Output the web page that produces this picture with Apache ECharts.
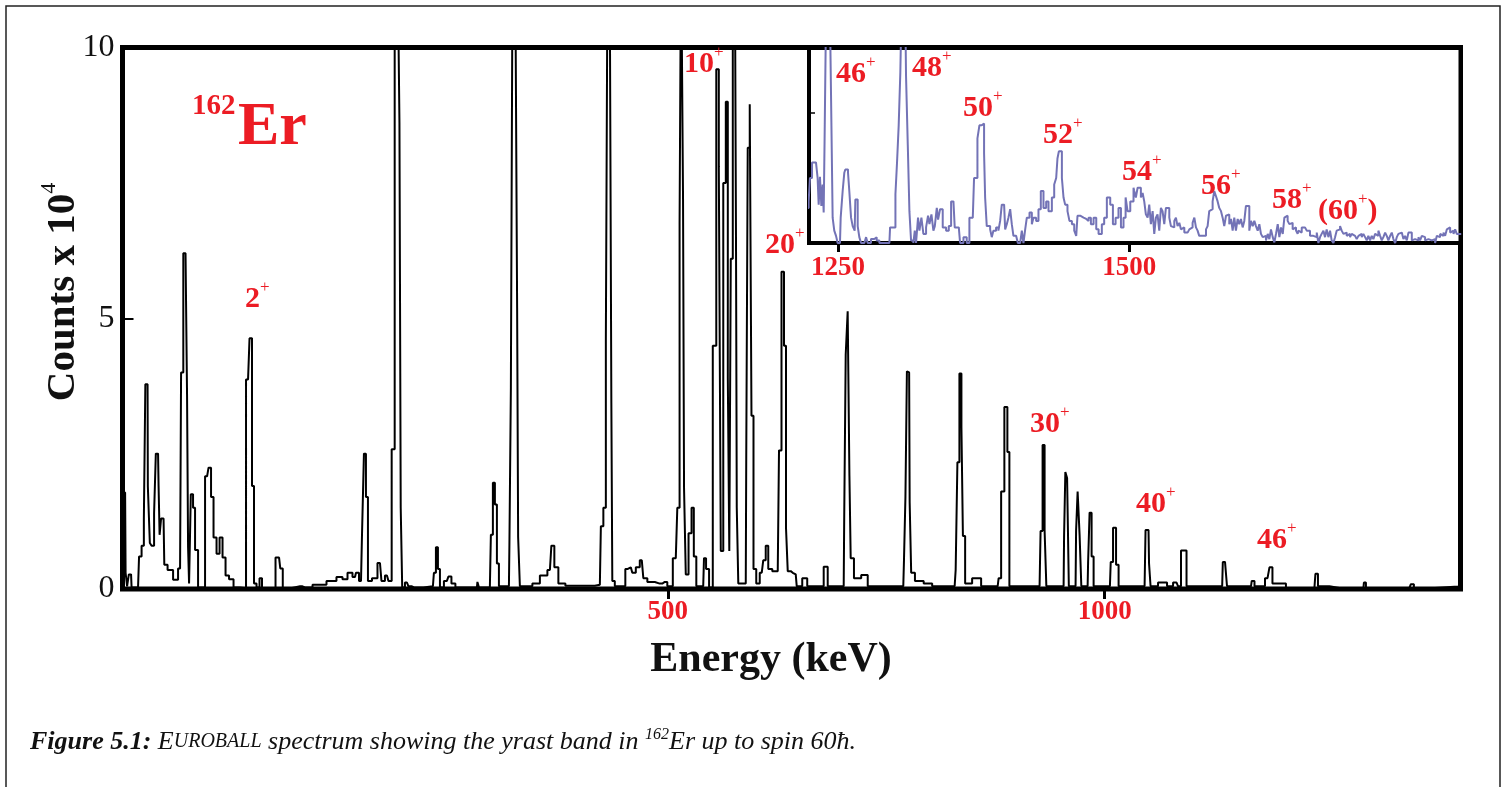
<!DOCTYPE html>
<html>
<head>
<meta charset="utf-8">
<title>162Er EUROBALL spectrum</title>
<script src="https://cdn.jsdelivr.net/npm/echarts@6.0.0/dist/echarts.min.js"></script>
<style>
  html, body { margin: 0; padding: 0; background: #fff; }
  #main { width: 1506px; height: 787px; }
</style>
</head>
<body>
<div id="main"></div>
<script>
// main spectrum, energy (keV) and counts (x 10^4)
const mainEnergy = [
  -124.7, -122.9, -121.2, -120.1, -117.8, -116.1, -114.4, -113.2, -106.4, -104.1,
  -100.6, -98.9, -97.2, -95.5, -94.9, -93.2, -92.6, -89.2, -86.9, -85.2,
  -83.5, -82.3, -81.2, -78.9, -77.2, -75.5, -69.7, -62.9, -58.3, -56.0,
  -53.2, -50.9, -49.7, -48.6, -47.4, -44.6, -42.3, -40.0, -35.4, -32.0,
  -27.4, -24.0, -21.7, -18.3, -14.8, -11.4, -8.0, -4.5, 0.0, 5.8,
  14.9, 19.5, 22.9, 25.2, 27.5, 30.9, 34.4, 36.6, 46.9, 55.0,
  57.8, 60.7, 79.0, 84.7, 101.9, 116.7, 124.7, 130.5, 136.2, 141.9,
  144.2, 148.8, 151.0, 153.3, 155.6, 157.9, 164.8, 170.5, 173.9, 178.5,
  181.9, 185.9, 188.8, 192.2, 193.4, 195.1, 196.8, 201.4, 204.8, 209.4,
  231.1, 233.4, 235.7, 238.0, 240.3, 247.1, 250.6, 254.0, 259.7, 281.5, 282.6,
  284.9, 296.3, 298.6, 300.9, 303.2, 305.5, 307.8, 318.1, 319.2, 321.5,
  323.2, 327.2, 327.8, 329.5, 331.8, 342.1, 347.8, 359.3, 365.0, 368.4,
  371.8, 377.6, 387.9, 410.7, 422.2, 424.5, 427.9, 430.2, 431.9, 434.8,
  435.9, 437.0, 441.6, 448.5, 454.2, 457.6, 461.1, 465.6, 470.2, 473.7,
  479.4, 490.8, 496.5, 502.3, 509.1, 512.6, 514.3, 516.0, 517.1, 517.7,
  519.4, 521.7, 525.7, 528.6, 530.9, 534.3, 540.5, 542.3, 545.2, 549.2, 553.7,
  557.2, 559.5, 561.7, 565.2, 567.5, 569.8, 570.9, 573.2, 575.5, 577.8,
  578.3, 579.5, 581.8, 589.2, 590.3, 592.6, 594.9, 596.6, 599.5, 602.9,
  607.5, 610.9, 613.2, 616.7, 622.4, 625.8, 628.7, 631.5, 634.4, 636.1,
  638.4, 643.0, 646.4, 648.7, 651.0, 656.7, 662.4, 676.1, 680.7, 685.3,
  701.3, 702.5, 704.7, 707.0, 708.7, 709.9, 716.2, 726.5, 731.1, 753.9,
  769.5, 771.1, 772.8, 774.5, 776.2, 777.4, 779.7, 786.0, 799.7, 805.4, 828.3,
  830.6, 832.3, 835.2, 836.9, 838.6, 842.0, 854.6, 862.6, 877.5, 879.8, 883.2,
  887.2, 890.1, 891.8, 925.5, 927.8, 930.1, 932.4, 934.1, 953.0, 954.1,
  955.9, 958.1, 959.9, 966.7, 967.9, 970.2, 972.4, 974.2, 980.5, 981.6, 983.9,
  986.2, 988.5, 1006.0, 1007.9, 1011.3, 1014.8, 1017.1, 1045.7, 1047.9, 1050.2, 1051.4,
  1053.7, 1068.5, 1074.3, 1082.3, 1085.7, 1089.1, 1092.6, 1094.8, 1120.0, 1134.5, 1136.0,
  1139.5, 1140.6, 1167.5, 1169.2, 1173.8, 1180.6, 1186.4, 1190.9, 1193.2, 1203.5, 1211.5,
  1240.1, 1242.4, 1245.9, 1268.7, 1296.2, 1297.3, 1300.8, 1348.8, 1352.2, 1355.7,
  1400.3, 1407.2
];
const mainCounts = [
  0.1, 1.78, 1.78, 0.3, 0.05, 0.27, 0.27, 0.03, 0.03, 0.6,
  0.8, 1.3, 3.78, 3.78, 1.9, 1.9, 0.85, 0.8, 1.4, 2.5,
  2.5, 1.9, 1.0, 1.3, 1.3, 0.45, 0.35, 0.17, 0.38, 4.0,
  6.2, 6.2, 3.55, 0.78, 0.1, 1.75, 1.5, 0.72, 0.03, 0.03,
  2.08, 2.24, 1.7, 0.95, 0.65, 0.95, 0.58, 0.25, 0.18, 0.03,
  0.02, 3.87, 4.63, 1.9, 0.1, 0.03, 0.2, 0.02, 0.02, 0.58,
  0.38, 0.02, 0.05, 0.03, 0.08, 0.15, 0.22, 0.18, 0.3, 0.22,
  0.3, 0.15, 0.98, 2.5, 1.7, 0.15, 0.2, 0.48, 0.15, 0.25,
  0.15, 2.58, 12, 12, 8.6, 1.5, 0.03, 0.12, 0.05, 0.03,
  0.05, 0.3, 0.77, 0.37, 0.03, 0.15, 0.23, 0.1, 0.03, 0.03, 0.13,
  0.03, 0.03, 1.0, 1.96, 1.56, 0.47, 0.05, 0.05, 0.8, 3.73,
  12, 12, 5.19, 0.96, 0.05, 0.05, 0.1, 0.25, 0.35, 0.8,
  0.4, 0.1, 0.06, 0.06, 0.08, 1.16, 1.5, 4.62, 12, 12,
  3.43, 0.15, 0.05, 0.05, 0.37, 0.4, 0.3, 0.4, 0.53, 0.2,
  0.13, 0.1, 0.13, 0.05, 0.57, 1.5, 6.75, 12, 12, 7.2,
  1.86, 0.27, 1.03, 1.5, 0.6, 0.05, 0.05, 0.57, 0.37, 0.03, 4.49,
  9.6, 7.8, 0.7, 7.5, 9.0, 3.9, 0.7, 6.1, 12, 12,
  6.3, 1.5, 0.1, 0.1, 2.43, 8.15, 8.95, 3.2, 0.37, 0.1,
  0.3, 0.53, 0.8, 0.37, 0.33, 0.33, 2.56, 5.86, 4.49, 1.13,
  0.33, 0.3, 0.27, 0.05, 0.05, 0.2, 0.05, 0.05, 0.41, 0.05,
  0.05, 1.35, 4.33, 5.13, 2.09, 0.57, 0.2, 0.26, 0.05, 0.05,
  0.05, 0.53, 1.69, 4.02, 4.0, 1.6, 0.3, 0.15, 0.1, 0.05, 0.05,
  0.35, 2.34, 3.98, 2.99, 0.98, 0.1, 0.2, 0.05, 0.05, 0.2, 1.8,
  3.36, 2.53, 0.05, 0.05, 1.07, 2.66, 1.08, 0.05, 0.05, 0.98,
  2.16, 2.05, 0.05, 0.05, 1.08, 1.8, 1.0, 0.05, 0.05, 0.5, 1.41,
  0.6, 0.05, 0.05, 0.5, 1.13, 0.45, 0.05, 0.05, 1.09, 1.09, 0.47,
  0.05, 0.12, 0.05, 0.12, 0.05, 0.71, 0.71, 0.05, 0.05, 0.05, 0.5,
  0.5, 0.05, 0.05, 0.15, 0.05, 0.05, 0.2, 0.4, 0.1, 0.1, 0.02,
  0.02, 0.28, 0.05, 0.02, 0.02, 0.12, 0.02, 0.02, 0.09, 0.02,
  0.04, 0.05
];

// inset: high-energy part of the spectrum (arbitrary units)
const insetEnergy = [
  1222.5, 1224.8, 1225.9, 1227.7, 1231.1, 1232.5, 1233.4, 1234.5, 1235.7, 1236.8,
  1237.7, 1238.5, 1239.7, 1243.1, 1244.0, 1245.4, 1246.8, 1248.3, 1249.7, 1251.7,
  1252.3, 1254.0, 1255.4, 1256.3, 1258.6, 1259.7, 1261.2, 1262.6, 1264.3, 1264.9,
  1266.9, 1268.3, 1269.8, 1272.6, 1274.1, 1275.5, 1278.3, 1281.2, 1283.2, 1285.5,
  1294.1, 1294.7, 1297.5, 1299.3, 1300.7, 1302.1, 1303.5, 1304.4, 1307.8, 1308.4,
  1309.9, 1311.3, 1312.7, 1314.7, 1315.9, 1317.0, 1318.7, 1319.9, 1321.6, 1323.3,
  1325.6, 1327.3, 1328.5, 1330.2, 1331.9, 1333.1, 1334.8, 1335.9, 1337.6, 1339.9,
  1342.8, 1345.1, 1347.1, 1349.1, 1350.2, 1353.7, 1354.8, 1357.7, 1360.5, 1362.8,
  1365.7, 1366.8, 1369.7, 1371.4, 1373.4, 1375.4, 1376.3, 1377.7, 1380.6, 1382.0,
  1383.4, 1385.7, 1387.7, 1389.2, 1390.6, 1392.6, 1393.5, 1394.9, 1396.3, 1397.8,
  1399.2, 1400.6, 1402.9, 1404.4, 1406.4, 1407.8, 1409.2, 1410.7, 1412.1, 1414.4,
  1416.4, 1417.8, 1420.1, 1422.1, 1424.1, 1426.4, 1428.7, 1430.7, 1433.6, 1435.6,
  1437.3, 1438.4, 1439.6, 1441.3, 1442.2, 1443.6, 1445.0, 1447.0, 1448.7, 1450.8,
  1452.8, 1454.5, 1455.6, 1457.9, 1460.8, 1463.1, 1465.1, 1467.1, 1469.4, 1471.7,
  1473.7, 1476.5, 1478.5, 1480.8, 1483.7, 1486.0, 1488.3, 1490.8, 1492.9, 1495.1,
  1496.9, 1498.6, 1500.9, 1503.7,
  1504.3, 1505.7, 1507.2, 1508.6, 1510.0, 1511.5, 1512.9, 1514.3, 1515.8, 1517.2,
  1518.6, 1520.1, 1521.5, 1522.9, 1524.3, 1525.8, 1527.2, 1528.6, 1530.1, 1531.5,
  1532.9, 1534.4, 1535.8, 1537.2, 1538.7, 1540.1, 1541.5, 1543.0, 1544.4, 1545.8,
  1547.3, 1548.7, 1550.1, 1551.6, 1553.0, 1554.4, 1555.9, 1557.3, 1558.7, 1560.1,
  1561.6, 1563.0, 1564.4, 1565.9, 1567.3, 1568.7, 1570.2, 1571.6, 1573.0, 1574.5,
  1575.9, 1577.3, 1578.8, 1580.2, 1581.6, 1583.1, 1584.5, 1585.9, 1587.4, 1588.8,
  1590.2, 1591.6, 1593.1, 1594.5, 1595.9, 1597.4, 1598.8, 1600.2, 1601.7, 1603.1,
  1604.5, 1606.0, 1607.4, 1608.8, 1610.3, 1611.7, 1613.1, 1614.6, 1616.0, 1617.4,
  1618.9, 1620.3, 1621.7, 1623.2, 1624.6, 1626.0, 1627.5, 1628.9, 1630.3, 1631.8,
  1633.2, 1634.6, 1636.0, 1637.5, 1638.9, 1640.3, 1641.8, 1643.2, 1644.6,
  1645.2, 1646.6, 1648.1, 1649.5, 1650.9, 1652.4, 1653.8, 1655.2, 1656.7, 1658.1,
  1659.5, 1661.0, 1662.4, 1663.8, 1665.2, 1666.7, 1668.1, 1669.5, 1671.0, 1672.4,
  1673.8, 1675.3, 1676.7, 1678.1, 1679.6, 1681.0, 1682.4, 1683.9, 1685.3, 1686.7,
  1688.2, 1689.6, 1691.0, 1692.5, 1693.9, 1695.3, 1696.8, 1698.2, 1699.6, 1701.0,
  1702.5, 1703.9, 1705.3, 1706.8, 1708.2, 1709.6, 1711.1, 1712.5, 1713.9, 1715.4,
  1716.8, 1718.2, 1719.7, 1721.1, 1722.5, 1724.0, 1725.4, 1726.8, 1728.3, 1729.7,
  1731.1, 1732.5, 1734.0, 1735.4, 1736.8, 1738.3, 1739.7, 1741.1, 1742.6, 1744.0,
  1745.4, 1746.9, 1748.3, 1749.7, 1751.2, 1752.6, 1754.0, 1755.5, 1756.9, 1758.3,
  1759.8, 1761.2, 1762.6, 1764.1, 1765.5, 1766.9, 1768.4, 1769.8, 1771.2, 1772.7,
  1774.1, 1775.5, 1776.9, 1778.4, 1779.8, 1781.2, 1785.0
];
const insetCounts = [
  0.54, 0.64, 1.0, 1.24, 1.24, 1.0, 0.59, 1.02, 0.57, 0.9,
  0.47, 1.61, 3.5, 3.5, 2.29, 0.39, 0.19, 0.11, 0.0, 0.0,
  0.39, 0.8, 1.08, 1.13, 1.08, 0.8, 0.39, 0.26, 0.19, 0.67,
  0.26, 0.09, 0.0, 0.01, 0.09, 0.0, 0.06, 0.09, 0.04, 0.0,
  0.0, 0.24, 0.24, 0.75, 1.25, 1.81, 2.62, 3.5, 3.5, 2.57,
  1.51, 0.49, 0.04, 0.0, 0.19, 0.0, 0.39, 0.19, 0.39, 0.14,
  0.24, 0.42, 0.29, 0.44, 0.19, 0.26, 0.54, 0.36, 0.52, 0.24,
  0.19, 0.26, 0.64, 0.64, 0.24, 0.24, 0.0, 0.09, 0.0, 0.39,
  0.39, 1.0, 1.61, 1.81, 1.84, 1.38, 0.7, 0.26, 0.21, 0.09,
  0.19, 0.24, 0.19, 0.34, 0.59, 0.59, 0.21, 0.29, 0.39, 0.52,
  0.29, 0.11, 0.09, 0.0, 0.0, 0.19, 0.0, 0.21, 0.39, 0.47,
  0.29, 0.39, 0.34, 0.52, 0.8, 0.54, 0.64, 0.49, 0.7, 0.9,
  1.0, 1.3, 1.41, 1.41, 1.0, 0.7, 0.59, 0.49, 0.34, 0.29,
  0.19, 0.11, 0.42, 0.39, 0.37, 0.34, 0.39, 0.29, 0.39, 0.21,
  0.14, 0.29, 0.39, 0.7, 0.59, 0.29, 0.39, 0.54, 0.24, 0.39,
  0.7, 0.49, 0.64, 0.85,
  0.8, 0.7, 0.85, 0.85, 0.7, 0.77, 0.64, 0.44, 0.39, 0.59,
  0.29, 0.49, 0.14, 0.39, 0.44, 0.19, 0.54, 0.49, 0.29, 0.54,
  0.54, 0.39, 0.26, 0.24, 0.34, 0.39, 0.26, 0.31, 0.21, 0.24,
  0.16, 0.16, 0.19, 0.21, 0.24, 0.31, 0.39, 0.24, 0.19, 0.11,
  0.11, 0.11, 0.11, 0.21, 0.26, 0.49, 0.52, 0.64, 0.8, 0.72,
  0.64, 0.54, 0.49, 0.39, 0.26, 0.42, 0.44, 0.29, 0.37, 0.19,
  0.39, 0.19, 0.37, 0.29, 0.37, 0.24, 0.34, 0.57, 0.57, 0.19,
  0.34, 0.26, 0.34, 0.26, 0.19, 0.29, 0.14, 0.09, 0.11, 0.04,
  0.14, 0.06, 0.21, 0.09, 0.01, 0.14, 0.29, 0.09, 0.24, 0.14,
  0.39, 0.42, 0.34, 0.29, 0.31, 0.21, 0.24, 0.19, 0.14,
  0.19, 0.16, 0.24, 0.24, 0.21, 0.19, 0.19, 0.11, 0.11, 0.14,
  0.09, 0.16, 0.0, 0.09, 0.14, 0.19, 0.09, 0.21, 0.09, 0.19,
  0.04, 0.0, 0.09, 0.19, 0.21, 0.26, 0.19, 0.14, 0.16, 0.11,
  0.14, 0.09, 0.14, 0.11, 0.11, 0.06, 0.11, 0.14, 0.09, 0.14,
  0.09, 0.04, 0.11, 0.04, 0.11, 0.06, 0.14, 0.11, 0.19, 0.11,
  0.04, 0.09, 0.16, 0.11, 0.04, 0.11, 0.16, 0.06, 0.0, 0.09,
  0.14, 0.16, 0.16, 0.06, 0.11, 0.04, 0.16, 0.16, 0.04, 0.06,
  0.04, 0.04, 0.09, 0.04, 0.11, 0.09, 0.04, 0.06, 0.09, 0.04,
  0.01, 0.06, 0.0, 0.11, 0.09, 0.14, 0.11, 0.16, 0.11, 0.21,
  0.24, 0.16, 0.19, 0.14, 0.21, 0.14, 0.14
];

const energyTicks = [500, 1000];
const insetTicks = [1250, 1500];
const mainSpins = ['2', '10', '20', '30', '40', '46'];
const insetSpins = ['46', '48', '50', '52', '54', '56', '58', '60'];

const SERIF = '"Liberation Serif", "Times New Roman", serif';
const RED = '#ec1c24';
const INSET = '#7373b6';

function spinText(x, y, num, bracket) {
  const text = bracket ? '{n|(' + num + '}{p|+}{n|)}' : '{n|' + num + '}{p|+}';
  return {
    type: 'text', x: x, y: y, z: 100,
    style: {
      text: text, align: 'left', verticalAlign: 'middle',
      rich: {
        n: { fontFamily: SERIF, fontSize: 30, fontWeight: 'bold', fill: RED, lineHeight: 40 },
        p: { fontFamily: SERIF, fontSize: 17, fill: RED, lineHeight: 14, verticalAlign: 'top' }
      }
    }
  };
}

// label anchors (left, middle of digits)
const mainSpinPos = [[245, 299], [684, 64], [765, 245], [1030, 424], [1136, 504], [1257, 540]];
const insetSpinPos = [[836, 74], [912, 68], [963, 108], [1043, 135], [1122, 172], [1201, 186], [1272, 200], [1318, 211]];

const graphics = [
  { type: 'rect', shape: { x: 6, y: 6, width: 1494, height: 820 },
    style: { fill: 'none', stroke: '#222', lineWidth: 1.5 }, silent: true },
  { type: 'text', x: 192, y: 107, z: 100,
    style: { text: '162', fontFamily: SERIF, fontSize: 29, fontWeight: 'bold', fill: RED, align: 'left', verticalAlign: 'middle' } },
  { type: 'text', x: 238, y: 128, z: 100,
    style: { text: 'Er', fontFamily: SERIF, fontSize: 62, fontWeight: 'bold', fill: RED, align: 'left', verticalAlign: 'middle' } },
  { type: 'text', x: 63, y: 292, rotation: Math.PI / 2, z: 100,
    style: {
      text: '{a|Counts x 10}{s|4}', align: 'center', verticalAlign: 'middle',
      rich: {
        a: { fontFamily: SERIF, fontSize: 41, fontWeight: 'bold', fill: '#111', lineHeight: 50 },
        s: { fontFamily: SERIF, fontSize: 22, fill: '#111', lineHeight: 22, verticalAlign: 'top' }
      }
    } },
  { type: 'text', x: 771, y: 660, z: 100,
    style: { text: 'Energy (keV)', fontFamily: SERIF, fontSize: 42, fontWeight: 'bold', fill: '#111', align: 'center', verticalAlign: 'middle' } },
  { type: 'text', x: 30, y: 742, z: 100,
    style: {
      text: '{b|Figure 5.1:}{i| E}{c|UROBALL}{i| spectrum showing the yrast band in }{s|162}{i|Er up to spin 60ħ.}',
      align: 'left', verticalAlign: 'middle',
      rich: {
        b: { fontFamily: SERIF, fontSize: 26, fontWeight: 'bold', fontStyle: 'italic', fill: '#111', lineHeight: 30 },
        i: { fontFamily: SERIF, fontSize: 26, fontStyle: 'italic', fill: '#111', lineHeight: 30 },
        c: { fontFamily: SERIF, fontSize: 20, fontStyle: 'italic', fill: '#111', lineHeight: 30 },
        s: { fontFamily: SERIF, fontSize: 16, fontStyle: 'italic', fill: '#111', lineHeight: 14, verticalAlign: 'top' }
      }
    } }
];
mainSpins.forEach(function (s, i) {
  graphics.push(spinText(mainSpinPos[i][0], mainSpinPos[i][1], s, false));
});
insetSpins.forEach(function (s, i) {
  graphics.push(spinText(insetSpinPos[i][0], insetSpinPos[i][1], s, s === '60'));
});

const tickLabel = {
  color: RED, fontFamily: SERIF, fontWeight: 'bold', fontSize: 27,
  formatter: function (v) { return String(v); }
};

const option = {
  animation: false,
  grid: [
    { left: 122.5, top: 47.5, right: 45.5, bottom: 198, show: true, borderColor: '#000', borderWidth: 5 },
    { left: 809, top: 48, right: 45.5, bottom: 544, show: true, borderColor: '#000', borderWidth: 4, backgroundColor: '#fff' }
  ],
  xAxis: [
    {
      type: 'value', gridIndex: 0, min: -124.2, max: 1407.3,
      axisLine: { show: false, onZero: false }, splitLine: { show: false },
      axisTick: { show: true, customValues: energyTicks, length: 10, lineStyle: { color: '#000', width: 3 } },
      axisLabel: Object.assign({ customValues: energyTicks, margin: 10 }, tickLabel)
    },
    {
      type: 'value', gridIndex: 1, min: 1225.1, max: 1784.4,
      axisLine: { show: false, onZero: false }, splitLine: { show: false },
      axisTick: { show: true, customValues: insetTicks, length: 9, lineStyle: { color: '#000', width: 3 } },
      axisLabel: Object.assign({ customValues: insetTicks, margin: 12 }, tickLabel)
    }
  ],
  yAxis: [
    {
      type: 'value', gridIndex: 0, min: 0, max: 10, interval: 5,
      axisLine: { show: false, onZero: false }, splitLine: { show: false },
      axisTick: { show: true, inside: true, length: 11, lineStyle: { color: '#000', width: 2 } },
      axisLabel: { color: '#111', fontFamily: SERIF, fontSize: 32, margin: 8 }
    },
    {
      type: 'value', gridIndex: 1, min: 0, max: 3, interval: 2,
      axisLine: { show: false, onZero: false }, splitLine: { show: false },
      axisTick: { show: true, inside: true, length: 6, lineStyle: { color: '#000', width: 1.5 } },
      axisLabel: { show: false }
    }
  ],
  series: [
    {
      type: 'line', xAxisIndex: 0, yAxisIndex: 0, step: 'middle',
      data: mainEnergy.map(function (e, i) { return [e, mainCounts[i]]; }),
      showSymbol: false, symbol: 'none', clip: true,
      lineStyle: { color: '#000', width: 2 }
    },
    {
      type: 'line', xAxisIndex: 1, yAxisIndex: 1, step: 'end', z: 5,
      data: insetEnergy.map(function (e, i) { return [e, insetCounts[i]]; }),
      showSymbol: false, symbol: 'none', clip: true,
      lineStyle: { color: INSET, width: 2 }
    }
  ],
  graphic: { elements: graphics }
};

const chart = echarts.init(document.getElementById('main'), null, { renderer: 'canvas' });
chart.setOption(option);
window.onresize = function () { chart.resize(); };
</script>
</body>
</html>
